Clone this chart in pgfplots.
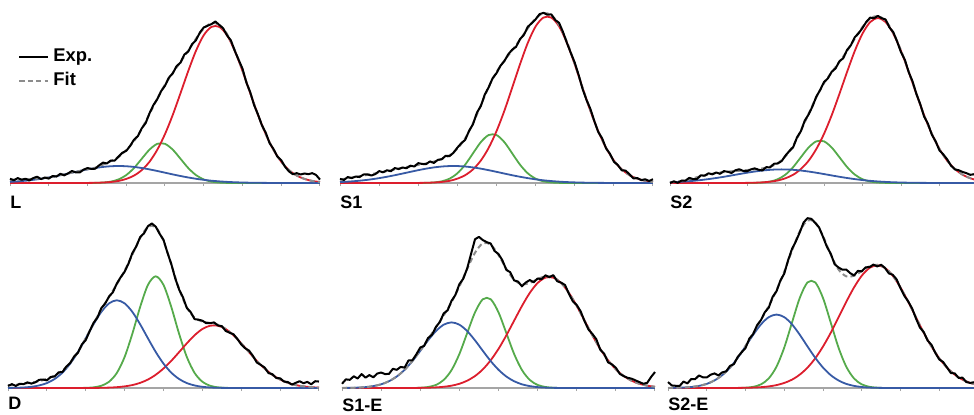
\documentclass[border=0pt]{standalone}
\usepackage{fontspec}
\setmainfont{Liberation Sans}
\usepackage{pgfplots}
\usepackage{pgfplotstable}
\pgfplotsset{compat=1.18}
\definecolor{cred}{RGB}{220,30,45}
\definecolor{cgreen}{RGB}{85,170,75}
\definecolor{cblue}{RGB}{55,90,165}
\definecolor{cgray}{RGB}{140,140,140}
\definecolor{axisgray}{RGB}{165,165,165}

% columns: x, blue, green, red, fit
\pgfplotstableread{
x b g r f
0.0 .0066 0 0 .019
0.2 .0096 0 0 .020
0.4 .0135 0 0 .022
0.6 .0186 0 0 .024
0.8 .0249 0 0 .028
1.0 .0325 0 0 .033
1.2 .0411 0 0 .041
1.4 .0506 0 0 .051
1.6 .0607 0 0 .061
1.8 .0707 0 0 .071
2.0 .0801 0 .0005 .081
2.2 .0882 .0007 .0012 .090
2.4 .0946 .0026 .0028 .108
2.6 .0986 .0080 .0059 .128
2.8 .1000 .0209 .0120 .153
3.0 .0986 .0465 .0241 .194
3.2 .0946 .0881 .0435 .246
3.4 .0882 .1426 .0759 .319
3.6 .0801 .1962 .1249 .406
3.8 .0707 .2303 .1952 .496
4.0 .0607 .2303 .2877 .579
4.2 .0506 .1962 .4005 .647
4.4 .0411 .1426 .5282 .712
4.6 .0325 .0881 .6586 .779
4.8 .0249 .0465 .7779 .849
5.0 .0186 .0209 .8695 .909
5.2 .0135 .0080 .9185 .940
5.4 .0096 .0026 .9185 .931
5.6 .0066 .0007 .8695 .877
5.8 .0044 0 .7779 .782
6.0 .0029 0 .6586 .662
6.2 .0018 0 .5282 .530
6.4 .0011 0 .4005 .402
6.6 .0007 0 .2877 .288
6.8 0 0 .1952 .195
7.0 0 0 .1249 .125
7.2 0 0 .0759 .076
7.4 0 0 .0435 .044
7.6 0 0 .0241 .024
7.8 0 0 .0120 .012
8.0 0 0 .0059 .006
}\tL

\pgfplotstableread{
x b g r f
0.0 .0054 0 0 .020
0.2 .0080 0 0 .028
0.4 .0114 0 0 .036
0.6 .0159 0 0 .044
0.8 .0216 0 0 .052
1.0 .0286 0 0 .061
1.2 .0367 0 0 .070
1.4 .0458 0 0 .080
1.6 .0556 0 0 .090
1.8 .0657 0 0 .098
2.0 .0755 0 .0005 .106
2.2 .0844 .0009 .0013 .115
2.4 .0917 .0032 .0029 .126
2.6 .0969 .0098 .0063 .141
2.8 .0997 .0256 .0127 .163
3.0 .0997 .0570 .0255 .202
3.2 .0969 .1080 .0461 .263
3.4 .0917 .1748 .0804 .352
3.6 .0844 .2405 .1323 .457
3.8 .0755 .2822 .2068 .565
4.0 .0657 .2822 .3048 .653
4.2 .0556 .2405 .4243 .720
4.4 .0458 .1748 .5596 .780
4.6 .0367 .1080 .6978 .843
4.8 .0286 .0570 .8242 .910
5.0 .0216 .0256 .9212 .968
5.2 .0159 .0098 .9731 .999
5.4 .0114 .0032 .9731 .988
5.6 .0080 .0009 .9212 .930
5.8 .0054 0 .8242 .830
6.0 .0036 0 .6978 .701
6.2 .0023 0 .5596 .562
6.4 .0014 0 .4243 .426
6.6 .0009 0 .3048 .306
6.8 .0005 0 .2068 .207
7.0 0 0 .1323 .132
7.2 0 0 .0804 .080
7.4 0 0 .0461 .046
7.6 0 0 .0255 .026
7.8 0 0 .0127 .013
8.0 0 0 .0063 .006
}\tSa

\pgfplotstableread{
x b g r f
0.0 .0043 0 0 .004
0.2 .0064 0 0 .008
0.4 .0091 0 0 .017
0.6 .0127 0 0 .028
0.8 .0173 0 0 .040
1.0 .0229 0 0 .050
1.2 .0294 0 0 .059
1.4 .0366 0 0 .064
1.6 .0445 0 0 .069
1.8 .0526 0 0 .072
2.0 .0604 0 .0008 .076
2.2 .0675 .0008 .0017 .080
2.4 .0734 .0028 .0038 .086
2.6 .0775 .0085 .0078 .096
2.8 .0798 .0223 .0146 .117
3.0 .0798 .0495 .0281 .157
3.2 .0775 .0938 .0485 .220
3.4 .0734 .1518 .0825 .308
3.6 .0675 .2088 .1310 .407
3.8 .0604 .2450 .1998 .505
4.0 .0526 .2450 .2891 .587
4.2 .0445 .2088 .3987 .652
4.4 .0366 .1518 .5238 .712
4.6 .0294 .0938 .6538 .777
4.8 .0229 .0495 .7770 .849
5.0 .0173 .0223 .8788 .918
5.2 .0127 .0085 .9467 .968
5.4 .0091 .0028 .9700 .982
5.6 .0064 .0008 .9467 .954
5.8 .0043 0 .8788 .883
6.0 .0029 0 .7770 .780
6.2 .0018 0 .6538 .656
6.4 .0011 0 .5238 .525
6.6 .0007 0 .3987 .399
6.8 .0004 0 .2891 .290
7.0 0 0 .1998 .200
7.2 0 0 .1310 .131
7.4 0 0 .0825 .083
7.6 0 0 .0485 .049
7.8 0 0 .0281 .028
8.0 0 0 .0146 .015
}\tSb

\pgfplotstableread{
x b g r f
0.0 .0005 0 0 .016
0.2 .0013 0 0 .019
0.4 .0031 0 0 .025
0.6 .0070 0 0 .032
0.8 .0150 0 0 .040
1.0 .0289 0 0 .054
1.2 .0531 0 0 .073
1.4 .0903 0 0 .102
1.6 .1434 0 0 .148
1.8 .2121 0 0 .212
2.0 .2921 .0010 .0002 .293
2.2 .3746 .0039 .0005 .379
2.4 .4474 .0131 .0011 .462
2.6 .4979 .0368 .0024 .537
2.8 .5160 .0887 .0048 .610
3.0 .4979 .1826 .0096 .690
3.2 .4474 .3200 .0173 .785
3.4 .3746 .4770 .0303 .882
3.6 .2921 .6064 .0498 .948
3.8 .2121 .6570 .0779 .947
4.0 .1434 .6064 .1148 .865
4.2 .0903 .4770 .1598 .727
4.4 .0531 .3200 .2107 .584
4.6 .0289 .1826 .2627 .474
4.8 .0150 .0887 .3103 .414
5.0 .0070 .0368 .3469 .391
5.2 .0031 .0131 .3664 .383
5.4 .0013 .0039 .3664 .372
5.6 .0005 .0010 .3469 .348
5.8 0 0 .3103 .310
6.0 0 0 .2627 .263
6.2 0 0 .2107 .211
6.4 0 0 .1598 .160
6.6 0 0 .1148 .115
6.8 0 0 .0779 .078
7.0 0 0 .0498 .050
7.2 0 0 .0303 .030
7.4 0 0 .0173 .017
7.6 0 0 .0096 .010
7.8 0 0 .0048 .005
8.0 0 0 .0024 .002
}\tD

\pgfplotstableread{
x b g r f
0.0 .0003 0 0 .000
0.2 .0010 0 0 .001
0.4 .0023 0 0 .002
0.6 .0052 0 0 .005
0.8 .0112 0 0 .011
1.0 .0216 0 0 .022
1.2 .0398 0 0 .040
1.4 .0676 0 0 .068
1.6 .1073 0 0 .107
1.8 .1586 0 .0003 .159
2.0 .2185 .0016 .0008 .221
2.2 .2802 .0059 .0018 .288
2.4 .3347 .0181 .0037 .357
2.6 .3725 .0474 .0072 .427
2.8 .3860 .1055 .0137 .505
3.0 .3725 .1999 .0248 .597
3.2 .3347 .3235 .0431 .701
3.4 .2802 .4451 .0705 .796
3.6 .2185 .5223 .1097 .851
3.8 .1586 .5223 .1633 .844
4.0 .1073 .4451 .2299 .782
4.2 .0676 .3235 .3095 .701
4.4 .0398 .1999 .3964 .636
4.6 .0216 .1055 .4826 .610
4.8 .0112 .0474 .5596 .618
5.0 .0052 .0181 .6177 .641
5.2 .0023 .0059 .6491 .657
5.4 .0010 .0016 .6491 .652
5.6 .0003 0 .6177 .618
5.8 0 0 .5596 .560
6.0 0 0 .4826 .483
6.2 0 0 .3964 .396
6.4 0 0 .3095 .310
6.6 0 0 .2299 .230
6.8 0 0 .1633 .163
7.0 0 0 .1097 .110
7.2 0 0 .0705 .071
7.4 0 0 .0431 .043
7.6 0 0 .0248 .025
7.8 0 0 .0137 .014
8.0 0 0 .0072 .007
}\tSaE

\pgfplotstableread{
x b g r f
0.0 .0004 0 0 .000
0.2 .0011 0 0 .001
0.4 .0026 0 0 .003
0.6 .0058 0 0 .006
0.8 .0125 0 0 .013
1.0 .0242 0 0 .024
1.2 .0445 0 0 .045
1.4 .0756 0 0 .076
1.6 .1201 0 0 .120
1.8 .1776 0 .0006 .178
2.0 .2445 .0019 .0012 .248
2.2 .3136 .0070 .0025 .323
2.4 .3745 .0216 .0049 .401
2.6 .4169 .0564 .0094 .483
2.8 .4320 .1255 .0170 .575
3.0 .4169 .2378 .0297 .684
3.2 .3745 .3848 .0491 .808
3.4 .3136 .5294 .0787 .922
3.6 .2445 .6213 .1199 .986
3.8 .1776 .6213 .1747 .974
4.0 .1201 .5294 .2440 .894
4.2 .0756 .3848 .3249 .785
4.4 .0445 .2378 .4151 .697
4.6 .0242 .1255 .5068 .657
4.8 .0125 .0564 .5913 .660
5.0 .0058 .0216 .6606 .688
5.2 .0026 .0070 .7061 .716
5.4 .0011 .0019 .7220 .725
5.6 .0004 0 .7061 .707
5.8 0 0 .6606 .661
6.0 0 0 .5913 .591
6.2 0 0 .5068 .507
6.4 0 0 .4151 .415
6.6 0 0 .3249 .325
6.8 0 0 .2440 .244
7.0 0 0 .1747 .175
7.2 0 0 .1199 .120
7.4 0 0 .0787 .079
7.6 0 0 .0491 .049
7.8 0 0 .0297 .030
8.0 0 0 .0170 .017
}\tSbE

\pgfplotsset{
  panel/.style={
    scale only axis, height=85pt, anchor=south west,
    xmin=0, xmax=8, ymin=0, ymax=1, clip=false,
    axis x line*=bottom, axis y line=none,
    xtick={0,1,...,8}, xticklabels={}, ytick=\empty,
    axis line style={draw=axisgray, line width=0.6pt, -},
    major tick length=1.6pt, tick align=outside,
    xtick style={draw=axisgray, line width=0.5pt},
  },
  comp/.style={line width=0.9pt, smooth, forget plot},
  fitst/.style={cgray, line width=1.0pt, dash pattern=on 2.6pt off 1.6pt, smooth},
  expst/.style={black, line width=1.0pt, line join=round},
}
\newcommand\comps[1]{%
  \addplot[comp, cgreen] table[x=x,y=g]{#1};
  \addplot[comp, cred] table[x=x,y=r]{#1};
  \addplot[comp, cblue] table[x=x,y=b]{#1};
}
\newcommand\lab[2]{\node[anchor=north west, inner sep=0pt, font=\fontsize{9}{10}\selectfont\bfseries] at (rel axis cs:0,0) [yshift=-#2] {#1};}

\begin{document}
\begin{tikzpicture}
\useasboundingbox (0,0) rectangle (487pt,207pt);

% ---------- L ----------
\begin{axis}[panel, at={(5pt,115.5pt)}, width=155pt,
  reverse legend, legend cell align=left,
  legend image code/.code={\draw[#1] (0pt,0pt) -- (14.5pt,0pt);},
  legend style={draw=none, fill=none, at={(0.026,0.815)}, anchor=north west,
    inner sep=0pt, row sep=0pt, font=\fontsize{9.2}{9.5}\selectfont\bfseries,
    /tikz/every even column/.append style={column sep=2.5pt}}]
\comps{\tL}
\addplot[fitst] table[x=x,y=f]{\tL};
\addlegendentry{Fit}
\addplot[expst] coordinates {(0,.025)(0.1,.016)(0.2,.029)(0.3,.019)(0.4,.025)(0.5,.015)(0.6,.029)(0.7,.037)(0.8,.023)(0.9,.032)(1,.026)(1.1,.041)(1.2,.038)(1.3,.054)(1.4,.045)(1.5,.057)(1.6,.071)(1.7,.062)(1.8,.062)(1.9,.079)(2,.088)(2.1,.083)(2.2,.084)(2.3,.104)(2.4,.120)(2.5,.115)(2.6,.132)(2.7,.132)(2.8,.155)(2.9,.178)(3,.189)(3.1,.218)(3.2,.255)(3.3,.276)(3.4,.322)(3.5,.352)(3.6,.410)(3.7,.458)(3.8,.493)(3.9,.540)(4,.572)(4.1,.620)(4.2,.645)(4.3,.688)(4.4,.708)(4.5,.756)(4.6,.773)(4.7,.817)(4.8,.840)(4.9,.885)(5,.915)(5.1,.925)(5.2,.935)(5.3,.950)(5.4,.930)(5.5,.910)(5.6,.869)(5.7,.839)(5.8,.778)(5.9,.725)(6,.673)(6.1,.591)(6.2,.534)(6.3,.458)(6.4,.403)(6.5,.340)(6.6,.296)(6.7,.234)(6.8,.200)(6.9,.156)(7,.134)(7.1,.095)(7.2,.068)(7.3,.052)(7.4,.058)(7.5,.050)(7.6,.056)(7.7,.052)(7.8,.058)(7.9,.047)(8,.020)};
\addlegendentry{Exp.}
\lab{L}{6.5pt}
\end{axis}

% ---------- S1 ----------
\begin{axis}[panel, at={(170pt,115.5pt)}, width=156.5pt]
\comps{\tSa}
\addplot[fitst] table[x=x,y=f]{\tSa};
\addplot[expst] coordinates {(0,.024)(0.1,.018)(0.2,.035)(0.3,.029)(0.4,.038)(0.5,.035)(0.6,.050)(0.7,.051)(0.8,.044)(0.9,.052)(1,.070)(1.1,.063)(1.2,.075)(1.3,.069)(1.4,.088)(1.5,.082)(1.6,.091)(1.7,.087)(1.8,.102)(1.9,.097)(2,.117)(2.1,.112)(2.2,.111)(2.3,.127)(2.4,.118)(2.5,.136)(2.6,.140)(2.7,.160)(2.8,.158)(2.9,.178)(3,.208)(3.1,.234)(3.2,.254)(3.3,.307)(3.4,.346)(3.5,.414)(3.6,.453)(3.7,.520)(3.8,.563)(3.9,.616)(4,.646)(4.1,.689)(4.2,.717)(4.3,.757)(4.4,.784)(4.5,.801)(4.6,.846)(4.7,.871)(4.8,.919)(4.9,.940)(5,.963)(5.1,.993)(5.2,1.001)(5.3,.990)(5.4,.992)(5.5,.959)(5.6,.942)(5.7,.888)(5.8,.824)(5.9,.765)(6,.708)(6.1,.635)(6.2,.553)(6.3,.489)(6.4,.436)(6.5,.365)(6.6,.300)(6.7,.263)(6.8,.204)(6.9,.172)(7,.125)(7.1,.106)(7.2,.075)(7.3,.073)(7.4,.051)(7.5,.027)(7.6,.029)(7.7,.017)(7.8,.022)(7.9,.012)(8,.022)};
\lab{S1}{6.2pt}
\end{axis}

% ---------- S2 ----------
\begin{axis}[panel, at={(335pt,115.5pt)}, width=154pt]
\comps{\tSb}
\addplot[fitst] table[x=x,y=f]{\tSb};
\addplot[expst] coordinates {(0,.000)(0.1,.010)(0.2,.001)(0.3,.014)(0.4,.014)(0.5,.030)(0.6,.023)(0.7,.023)(0.8,.045)(0.9,.043)(1,.057)(1.1,.051)(1.2,.062)(1.3,.054)(1.4,.070)(1.5,.066)(1.6,.059)(1.7,.075)(1.8,.081)(1.9,.071)(2,.069)(2.1,.080)(2.2,.086)(2.3,.078)(2.4,.074)(2.5,.093)(2.6,.092)(2.7,.113)(2.8,.115)(2.9,.129)(3,.162)(3.1,.188)(3.2,.211)(3.3,.269)(3.4,.305)(3.5,.367)(3.6,.403)(3.7,.450)(3.8,.508)(3.9,.547)(4,.594)(4.1,.615)(4.2,.654)(4.3,.674)(4.4,.716)(4.5,.734)(4.6,.783)(4.7,.811)(4.8,.858)(4.9,.881)(5,.912)(5.1,.948)(5.2,.973)(5.3,.969)(5.4,.983)(5.5,.969)(5.6,.962)(5.7,.915)(5.8,.887)(5.9,.832)(6,.769)(6.1,.725)(6.2,.652)(6.3,.598)(6.4,.524)(6.5,.464)(6.6,.391)(6.7,.349)(6.8,.285)(6.9,.245)(7,.191)(7.1,.168)(7.2,.139)(7.3,.102)(7.4,.080)(7.5,.075)(7.6,.065)(7.7,.058)(7.8,.048)(7.9,.052)(8,.020)};
\lab{S2}{6.2pt}
\end{axis}

% ---------- D ----------
\begin{axis}[panel, at={(4pt,13pt)}, width=155.5pt]
\comps{\tD}
\addplot[fitst] table[x=x,y=f]{\tD};
\addplot[expst] coordinates {(0,.012)(0.1,.023)(0.2,.012)(0.3,.025)(0.4,.023)(0.5,.033)(0.6,.026)(0.7,.033)(0.8,.048)(0.9,.050)(1,.045)(1.1,.065)(1.2,.068)(1.3,.092)(1.4,.094)(1.5,.126)(1.6,.147)(1.7,.185)(1.8,.208)(1.9,.256)(2,.282)(2.1,.334)(2.2,.383)(2.3,.414)(2.4,.470)(2.5,.497)(2.6,.538)(2.7,.564)(2.8,.615)(2.9,.652)(3,.684)(3.1,.732)(3.2,.794)(3.3,.833)(3.4,.888)(3.5,.910)(3.6,.952)(3.7,.968)(3.8,.949)(3.9,.907)(4,.872)(4.1,.797)(4.2,.730)(4.3,.646)(4.4,.580)(4.5,.534)(4.6,.471)(4.7,.446)(4.8,.405)(4.9,.402)(5,.396)(5.1,.381)(5.2,.381)(5.3,.386)(5.4,.368)(5.5,.364)(5.6,.336)(5.7,.325)(5.8,.316)(5.9,.289)(6,.256)(6.1,.234)(6.2,.220)(6.3,.189)(6.4,.150)(6.5,.136)(6.6,.121)(6.7,.088)(6.8,.081)(6.9,.059)(7,.057)(7.1,.038)(7.2,.035)(7.3,.020)(7.4,.030)(7.5,.040)(7.6,.028)(7.7,.036)(7.8,.022)(7.9,.040)(8,.038)};
\lab{D}{4.5pt}
\end{axis}

% ---------- S1-E ----------
\begin{axis}[panel, at={(171pt,13pt)}, width=156.5pt]
\comps{\tSaE}
\addplot[fitst] table[x=x,y=f]{\tSaE};
\addplot[expst] coordinates {(0,.025)(0.1,.051)(0.2,.048)(0.3,.069)(0.4,.056)(0.5,.082)(0.6,.061)(0.7,.076)(0.8,.063)(0.9,.085)(1,.091)(1.1,.082)(1.2,.083)(1.3,.113)(1.4,.107)(1.5,.124)(1.6,.120)(1.7,.162)(1.8,.163)(1.9,.198)(2,.238)(2.1,.248)(2.2,.294)(2.3,.313)(2.4,.359)(2.5,.388)(2.6,.439)(2.7,.457)(2.8,.513)(2.9,.548)(3,.611)(3.1,.643)(3.2,.704)(3.3,.790)(3.4,.875)(3.5,.889)(3.6,.870)(3.7,.858)(3.8,.850)(3.9,.806)(4,.788)(4.1,.751)(4.2,.695)(4.3,.681)(4.4,.633)(4.5,.626)(4.6,.598)(4.7,.621)(4.8,.635)(4.9,.622)(5,.644)(5.1,.640)(5.2,.663)(5.3,.652)(5.4,.664)(5.5,.628)(5.6,.620)(5.7,.606)(5.8,.554)(5.9,.510)(6,.488)(6.1,.451)(6.2,.393)(6.3,.344)(6.4,.318)(6.5,.287)(6.6,.226)(6.7,.202)(6.8,.151)(6.9,.139)(7,.119)(7.1,.083)(7.2,.070)(7.3,.060)(7.4,.055)(7.5,.045)(7.6,.035)(7.7,.025)(7.8,.030)(7.9,.065)(8,.094)};
\lab{S1-E}{5.1pt}
\end{axis}

% ---------- S2-E ----------
\begin{axis}[panel, at={(334pt,13pt)}, width=155pt]
\comps{\tSbE}
\addplot[fitst] table[x=x,y=f]{\tSbE};
\addplot[expst] coordinates {(0,.035)(0.1,.015)(0.2,.013)(0.3,.012)(0.4,.038)(0.5,.027)(0.6,.053)(0.7,.052)(0.8,.074)(0.9,.063)(1,.062)(1.1,.078)(1.2,.086)(1.3,.074)(1.4,.092)(1.5,.098)(1.6,.130)(1.7,.140)(1.8,.183)(1.9,.210)(2,.235)(2.1,.291)(2.2,.318)(2.3,.370)(2.4,.400)(2.5,.446)(2.6,.473)(2.7,.536)(2.8,.569)(2.9,.632)(3,.673)(3.1,.752)(3.2,.818)(3.3,.863)(3.4,.915)(3.5,.974)(3.6,.999)(3.7,.995)(3.8,.971)(3.9,.944)(4,.889)(4.1,.831)(4.2,.790)(4.3,.728)(4.4,.709)(4.5,.696)(4.6,.697)(4.7,.676)(4.8,.662)(4.9,.689)(5,.686)(5.1,.710)(5.2,.711)(5.3,.726)(5.4,.715)(5.5,.725)(5.6,.706)(5.7,.674)(5.8,.666)(5.9,.639)(6,.587)(6.1,.542)(6.2,.509)(6.3,.468)(6.4,.409)(6.5,.356)(6.6,.329)(6.7,.279)(6.8,.254)(6.9,.206)(7,.168)(7.1,.153)(7.2,.121)(7.3,.088)(7.4,.086)(7.5,.059)(7.6,.061)(7.7,.035)(7.8,.030)(7.9,.034)(8,.032)};
\lab{S2-E}{5.0pt}
\end{axis}
\end{tikzpicture}
\end{document}
